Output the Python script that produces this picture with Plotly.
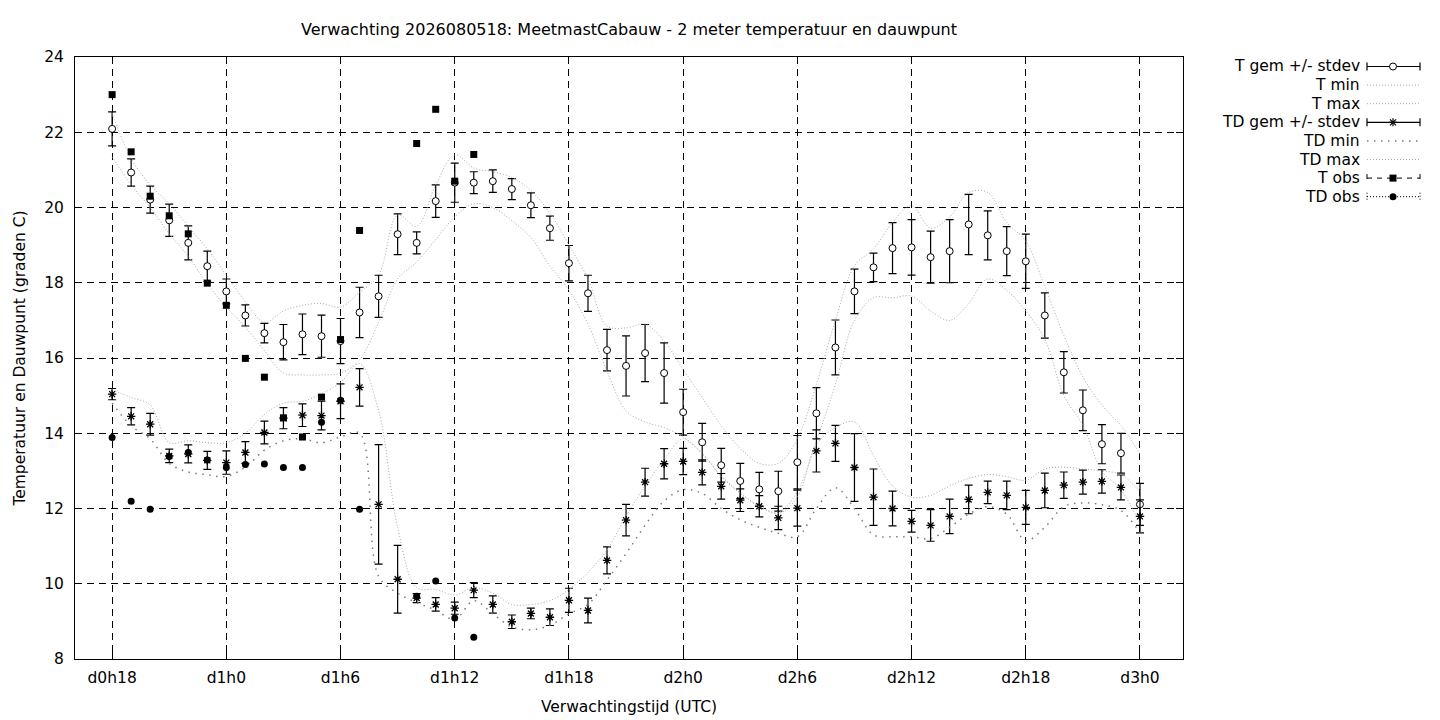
import plotly.graph_objects as go

# verwachtingsuren (uur na d0h0), één waarde per uur
uren = list(range(18, 73))

t_gem = [22.09, 20.93, 20.21, 19.66, 19.06, 18.44, 17.77, 17.13, 16.66, 16.42,
         16.63, 16.58, 16.45, 17.21, 17.64, 19.29, 19.06, 20.17, 20.66, 20.66,
         20.70, 20.49, 20.06, 19.45, 18.52, 17.72, 16.21, 15.79, 16.13, 15.60,
         14.56, 13.76, 13.15, 12.73, 12.51, 12.46, 13.23, 14.53, 16.28, 17.77,
         18.41, 18.92, 18.94, 18.68, 18.84, 19.55, 19.26, 18.84, 18.57, 17.13,
         15.62, 14.61, 13.71, 13.47, 12.11]
t_std = [0.45, 0.36, 0.36, 0.43, 0.45, 0.40, 0.33, 0.28, 0.26, 0.47,
         0.54, 0.56, 0.60, 0.67, 0.56, 0.54, 0.29, 0.43, 0.52, 0.29,
         0.30, 0.28, 0.33, 0.32, 0.47, 0.48, 0.55, 0.80, 0.76, 0.80,
         0.61, 0.50, 0.45, 0.47, 0.45, 0.53, 0.71, 0.68, 0.73, 0.59,
         0.38, 0.68, 0.74, 0.69, 0.84, 0.80, 0.65, 0.65, 0.72, 0.60,
         0.55, 0.54, 0.52, 0.53, 0.56]
t_min = [21.35, 20.6, 20.0, 19.3, 18.7, 17.97, 17.35, 16.82, 16.2, 15.6,
         15.55, 15.55, 15.6, 15.95, 16.95, 18.1, 18.55, 19.15, 19.75, 20.1,
         20.0, 19.65, 19.2, 18.45, 17.8, 16.9, 15.65, 14.6, 14.3, 14.15,
         13.9, 13.47, 12.87, 12.42, 12.07, 11.9, 12.45, 13.8, 15.3, 17.0,
         17.6, 17.6, 17.65, 17.25, 17.0, 17.45, 18.1, 17.8, 17.25, 16.5,
         15.0, 14.2, 13.0, 12.5, 11.6]
t_max = [22.5, 21.3, 20.6, 20.1, 19.5, 18.9, 18.2, 17.5, 16.95, 17.25,
         17.4, 17.45, 17.35, 17.75, 18.2, 19.8, 19.5, 20.6, 21.4, 21.05,
         20.95, 20.8, 20.45, 19.85, 19.0, 18.1, 16.85, 16.8, 16.9, 16.45,
         15.7, 14.95, 14.2, 13.6, 13.2, 13.2, 13.85, 15.3, 17.0, 18.45,
         18.9, 19.6, 20.05, 19.45, 19.75, 20.4, 20.4, 19.6, 19.1, 17.9,
         16.6, 15.5, 14.75, 14.2, 13.45]

td_gem = [15.04, 14.45, 14.24, 13.40, 13.45, 13.28, 13.22, 13.49, 14.02, 14.40,
          14.48, 14.47, 14.85, 15.22, 12.11, 10.12, 9.62, 9.45, 9.35, 9.83,
          9.45, 8.99, 9.21, 9.11, 9.56, 9.29, 10.62, 11.69, 12.70, 13.19,
          13.25, 12.96, 12.59, 12.22, 12.06, 11.75, 12.01, 13.53, 13.73, 13.09,
          12.30, 12.00, 11.66, 11.55, 11.79, 12.24, 12.43, 12.35, 12.03, 12.48,
          12.62, 12.70, 12.72, 12.56, 11.79]
td_std = [0.15, 0.23, 0.29, 0.18, 0.24, 0.24, 0.31, 0.29, 0.30, 0.28,
          0.30, 0.38, 0.46, 0.50, 1.59, 0.90, 0.12, 0.18, 0.16, 0.20,
          0.23, 0.18, 0.14, 0.22, 0.32, 0.33, 0.36, 0.42, 0.37, 0.40,
          0.35, 0.33, 0.34, 0.30, 0.28, 0.31, 0.48, 0.56, 0.48, 0.90,
          0.75, 0.46, 0.29, 0.42, 0.46, 0.38, 0.30, 0.38, 0.45, 0.46,
          0.35, 0.32, 0.31, 0.33, 0.44]
td_min = [14.8, 14.2, 13.85, 13.2, 12.97, 12.9, 12.85, 13.1, 13.55, 13.8,
          13.85, 13.75, 13.9, 14.0, 10.2, 9.75, 9.5, 9.3, 9.05, 9.55,
          9.2, 8.85, 8.78, 8.9, 9.2, 9.45, 10.1, 10.8, 11.55, 12.2,
          12.5, 12.4, 12.0, 11.7, 11.5, 11.34, 11.25, 12.0, 12.55, 12.0,
          11.3, 11.25, 11.25, 11.2, 11.5, 11.85, 12.05, 11.85, 11.15, 11.5,
          12.05, 12.15, 12.1, 11.95, 11.35]
td_max = [15.15, 14.95, 14.75, 13.75, 13.8, 13.75, 13.75, 14.0, 14.5, 14.8,
          14.85, 15.05, 15.35, 15.85, 14.6, 11.5, 9.9, 9.85, 9.7, 9.9,
          9.75, 9.45, 9.45, 9.55, 9.85, 10.3, 10.9, 11.8, 12.6, 13.3,
          13.85, 13.45, 12.85, 12.4, 12.05, 11.87, 12.3, 13.7, 14.15, 14.3,
          13.4, 12.6, 12.3, 12.35, 12.6, 12.8, 12.9, 12.85, 12.75, 13.05,
          13.1, 13.05, 13.0, 12.9, 12.45]

# waarnemingen (tot d1h13)
obs_uren = list(range(18, 38))
t_obs = [23.0, 21.48, 20.3, 19.78, 19.3, 17.99, 17.4, 15.99, 15.49, 14.41,
         13.9, 14.96, 16.49, 19.39, None, None, 21.7, 22.61, 20.7, 21.41]
td_obs = [13.89, 12.19, 11.98, 13.38, 13.49, 13.29, 13.09, 13.17, 13.18, 13.09,
          13.09, 14.29, 14.88, 11.98, None, None, 9.67, 10.07, 9.09, 8.58]

tick_uren = [18, 24, 30, 36, 42, 48, 54, 60, 66, 72]
tick_labels = ["d0h18", "d1h0", "d1h6", "d1h12", "d1h18",
               "d2h0", "d2h6", "d2h12", "d2h18", "d3h0"]

FONT = "DejaVu Sans"
FS = 15.5
LICHT = "#a8a8a8"
DONKER = "#7a7a7a"

fig = go.Figure()

fig.add_trace(go.Scatter(
    x=uren, y=t_gem, mode="markers",
    marker=dict(symbol="circle", size=7, color="white", line=dict(color="black", width=1)),
    error_y=dict(type="data", array=t_std, color="black", thickness=1.2, width=4),
))
fig.add_trace(go.Scatter(x=uren, y=t_min, mode="lines", line_shape="spline",
                         line=dict(color=LICHT, width=1, dash="1px,2px")))
fig.add_trace(go.Scatter(x=uren, y=t_max, mode="lines", line_shape="spline",
                         line=dict(color=LICHT, width=1, dash="1px,2px")))
fig.add_trace(go.Scatter(
    x=uren, y=td_gem, mode="markers",
    marker=dict(symbol="asterisk-open", size=7, color="black", line=dict(color="black", width=1.3)),
    error_y=dict(type="data", array=td_std, color="black", thickness=1.2, width=4),
))
fig.add_trace(go.Scatter(x=uren, y=td_min, mode="lines", line_shape="spline",
                         line=dict(color=DONKER, width=1.5, dash="1.5px,5.5px")))
fig.add_trace(go.Scatter(x=uren, y=td_max, mode="lines", line_shape="spline",
                         line=dict(color=LICHT, width=1, dash="1px,2px")))
fig.add_trace(go.Scatter(x=obs_uren, y=t_obs, mode="markers",
                         marker=dict(symbol="square", size=7, color="black")))
fig.add_trace(go.Scatter(x=obs_uren, y=td_obs, mode="markers",
                         marker=dict(symbol="circle", size=7, color="black")))

# figuur staat op de pagina 8px verschoven (body-marge), daarom 1432x712
W, H = 1432, 712
L, R, T, B = 67, 257, 49, 61
pw, ph = W - L - R, H - T - B
OFF = 8  # paginacoördinaten -> figuurcoördinaten


def px(x):
    return (x - OFF - L) / pw


def py(y):
    return (H - B - (y - OFF)) / ph


# eigen legenda in gnuplot-stijl (tekst rechts uitgelijnd, symbool rechts)
leg_labels = ["T gem +/- stdev", "T min", "T max", "TD gem +/- stdev",
              "TD min", "TD max", "T obs", "TD obs"]
leg_x0, leg_x1, leg_xm = 1367, 1420, 1393
shapes = []
annotations = []
for i, lab in enumerate(leg_labels):
    yy = 66.5 + 18.6 * i
    annotations.append(dict(x=px(1362), y=py(yy), xref="paper", yref="paper",
                            text=lab, showarrow=False, xanchor="right", yanchor="middle",
                            font=dict(family=FONT, size=FS, color="black")))
    if lab in ("T min", "T max", "TD max"):
        ln = dict(color=LICHT, width=1, dash="1px,2px")
    elif lab == "TD min":
        ln = dict(color=DONKER, width=1.5, dash="1.5px,5.5px")
    elif lab == "T obs":
        ln = dict(color="black", width=1, dash="5px,5px")
    elif lab == "TD obs":
        ln = dict(color="black", width=1, dash="1px,2px")
    else:
        ln = dict(color="black", width=1.2)
    shapes.append(dict(type="line", xref="paper", yref="paper",
                       x0=px(leg_x0), x1=px(leg_x1), y0=py(yy), y1=py(yy), line=ln))
    if "gem" in lab or "obs" in lab:
        for xe in (leg_x0, leg_x1):
            shapes.append(dict(type="line", xref="paper", yref="paper",
                               x0=px(xe), x1=px(xe), y0=py(yy - 4), y1=py(yy + 4), line=ln))
    mk = dict(xref="paper", yref="paper", xsizemode="pixel", ysizemode="pixel",
              xanchor=px(leg_xm), yanchor=py(yy))
    if lab == "T gem +/- stdev":
        shapes.append(dict(type="circle", x0=-3.5, x1=3.5, y0=-3.5, y1=3.5,
                           fillcolor="white", line=dict(color="black", width=1), **mk))
    elif lab == "TD gem +/- stdev":
        for dx, dy in ((4, 0), (0, 4), (3, 3), (3, -3)):
            shapes.append(dict(type="line", x0=-dx, x1=dx, y0=-dy, y1=dy,
                               line=dict(color="black", width=1.2), **mk))
    elif lab == "T obs":
        shapes.append(dict(type="rect", x0=-3.5, x1=3.5, y0=-3.5, y1=3.5,
                           fillcolor="black", line=dict(color="black", width=0), **mk))
    elif lab == "TD obs":
        shapes.append(dict(type="circle", x0=-3.5, x1=3.5, y0=-3.5, y1=3.5,
                           fillcolor="black", line=dict(color="black", width=0), **mk))

asstijl = dict(showline=True, linecolor="black", linewidth=1, mirror="ticks",
               ticks="inside", ticklen=7, tickcolor="black", automargin=False,
               showgrid=True, gridcolor="black", gridwidth=1, griddash="7px,5px",
               zeroline=False, tickfont=dict(family=FONT, size=FS, color="black"))

fig.update_layout(
    width=W, height=H,
    autosize=False,
    margin=dict(l=L, r=R, t=T, b=B, autoexpand=False),
    paper_bgcolor="white", plot_bgcolor="white",
    showlegend=False,
    font=dict(family=FONT, size=FS, color="black"),
    title=dict(text="Verwachting 2026080518: MeetmastCabauw - 2 meter temperatuur en dauwpunt",
               x=0.5, xref="paper", y=1 - (29 - OFF) / H, yref="container", yanchor="middle",
               automargin=False,
               font=dict(family=FONT, size=16, color="black")),
    xaxis=dict(range=[16.05, 74.26], tickvals=tick_uren, ticktext=tick_labels,
               ticklabelstandoff=4,
               title=dict(text="Verwachtingstijd (UTC)", standoff=15,
                          font=dict(family=FONT, size=FS, color="black")), **asstijl),
    yaxis=dict(range=[8, 24], dtick=2, ticklabelstandoff=7,
               title=dict(text="Temperatuur en Dauwpunt (graden C)", standoff=14,
                          font=dict(family=FONT, size=FS, color="black")), **asstijl),
    shapes=shapes,
    annotations=annotations,
)

fig.write_html("out.html")
